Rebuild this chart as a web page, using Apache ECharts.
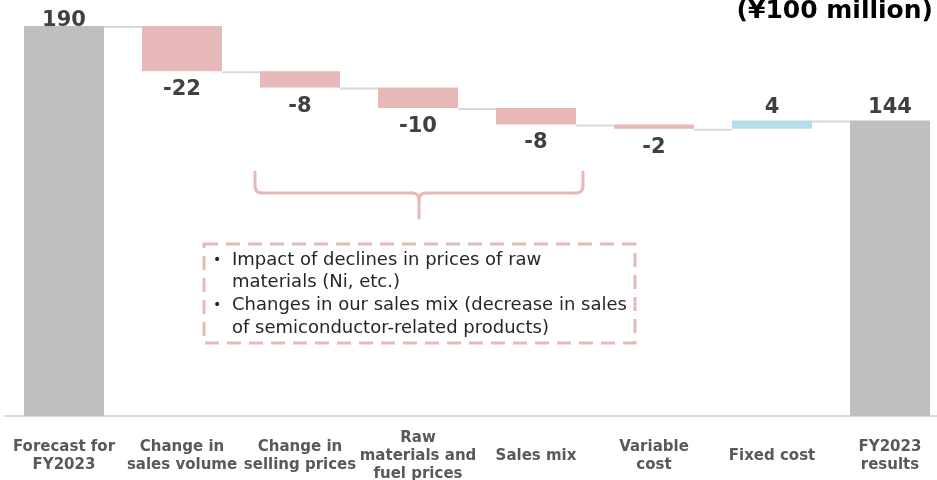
<!DOCTYPE html>
<html lang="en">
<head>
    <meta charset="UTF-8">
    <title>Operating income bridge</title>
    <script src="https://cdn.jsdelivr.net/npm/echarts@6/dist/echarts.min.js"></script>
    <style>
        body { margin: 0; background: #fff; }
    </style>
</head>
<body>
    <div id="main" style="width: 937px;height: 480px;"></div>
    <script>
        // categories of the bridge
        const categories = [
            'Forecast for\nFY2023',
            'Change in\nsales volume',
            'Change in\nselling prices',
            'Raw\nmaterials and\nfuel prices',
            'Sales mix',
            'Variable\ncost',
            'Fixed cost',
            'FY2023\nresults'
        ];
        // first and last are totals, the others are changes
        const changes = [190, -22, -8, -10, -8, -2, 4, 144];
        const noteLines = [
            'Impact of declines in prices of raw',
            'materials (Ni, etc.)',
            'Changes in our sales mix (decrease in sales',
            'of semiconductor-related products)'
        ];

        const GREY = '#bfbfbf', PINK = '#e6b8b7', BLUE = '#b7dee8';
        const last = changes.length - 1;

        // invisible base + visible part of each bar
        let base = [], height = [], levels = [];
        let running = 0;
        changes.forEach((v, i) => {
            if (i === 0 || i === last) {
                base.push(0);
                height.push(v);
                running = v;
            } else {
                let next = running + v;
                base.push(Math.min(running, next));
                height.push(Math.abs(v));
                running = next;
            }
            if (i < last) levels.push([i, running]);
        });

        const labelFont = { fontFamily: 'DejaVu Sans', fontWeight: 'bold', fontSize: 21, color: '#404040' };

        const valueData = height.map((h, i) => {
            let v = changes[i];
            let total = (i === 0 || i === last);
            return {
                value: h,
                itemStyle: { color: total ? GREY : (v < 0 ? PINK : BLUE) },
                label: {
                    show: true,
                    position: v < 0 ? 'bottom' : 'top',
                    distance: i === 0 ? -5 : (v < 0 ? 8 : 2),
                    ...labelFont
                }
            };
        });

        let myChart = echarts.init(document.getElementById('main'));

        // note text inside the dashed box
        let notes = [];
        noteLines.forEach((t, i) => {
            notes.push({
                type: 'text',
                style: {
                    x: 232, y: 260 + i * 22.8, text: t,
                    font: '18px "DejaVu Sans"', fill: '#262626',
                    textVerticalAlign: 'middle'
                }
            });
        });
        [0, 2].forEach(i => {
            notes.push({
                type: 'text',
                style: {
                    x: 213, y: 260 + i * 22.8, text: '•',
                    font: '14px "DejaVu Sans"', fill: '#262626',
                    textVerticalAlign: 'middle'
                }
            });
        });

        // curly brace above the note
        const braceStyle = { stroke: PINK, lineWidth: 3, fill: null, lineCap: 'round' };
        const braceLines = [
            [255, 172, 255, 186], [262, 193, 412, 193], [419, 200, 419, 218],
            [426, 193, 576, 193], [583, 186, 583, 172]
        ];
        const braceCurves = [
            [255, 186, 255, 193, 262, 193], [412, 193, 419, 193, 419, 200],
            [426, 193, 419, 193, 419, 200], [576, 193, 583, 193, 583, 186]
        ];
        let brace = [];
        braceLines.forEach(l => brace.push({
            type: 'line', shape: { x1: l[0], y1: l[1], x2: l[2], y2: l[3] }, style: braceStyle
        }));
        braceCurves.forEach(c => brace.push({
            type: 'bezierCurve',
            shape: { x1: c[0], y1: c[1], cpx1: c[2], cpy1: c[3], x2: c[4], y2: c[5] },
            style: braceStyle
        }));

        let option = {
            animation: false,
            grid: { left: 5, top: 26, width: 944, height: 390, outerBoundsMode: 'none' },
            xAxis: {
                type: 'category',
                data: categories,
                axisTick: { show: false },
                axisLine: { lineStyle: { color: '#d9d9d9', width: 2 } },
                axisLabel: {
                    interval: 0,
                    margin: 40,
                    verticalAlign: 'middle',
                    lineHeight: 18,
                    fontSize: 15,
                    fontWeight: 'bold',
                    fontFamily: 'DejaVu Sans',
                    color: '#595959'
                }
            },
            yAxis: { type: 'value', min: 0, max: 190, show: false },
            series: [
                {
                    type: 'bar',
                    stack: 'total',
                    barWidth: 80,
                    itemStyle: { color: 'transparent' },
                    data: base,
                    silent: true
                },
                {
                    type: 'bar',
                    stack: 'total',
                    barWidth: 80,
                    data: valueData,
                    label: { formatter: p => String(changes[p.dataIndex]) }
                },
                {
                    // connector lines between bars
                    type: 'custom',
                    data: levels,
                    encode: { x: 0, y: 1 },
                    z: 1,
                    renderItem: function (params, api) {
                        let i = api.value(0), lvl = api.value(1);
                        let a = api.coord([i, lvl]);
                        let b = api.coord([i + 1, lvl]);
                        return {
                            type: 'line',
                            shape: { x1: a[0] + 40, y1: a[1] + 1, x2: b[0] - 40, y2: b[1] + 1 },
                            style: { stroke: '#d9d9d9', lineWidth: 2 }
                        };
                    }
                }
            ],
            graphic: [
                {
                    type: 'text',
                    style: {
                        x: 933, y: 11, text: '(¥100 million)',
                        font: 'bold 25px "DejaVu Sans"', fill: '#000',
                        textAlign: 'right', textVerticalAlign: 'middle'
                    }
                },
                {
                    type: 'rect',
                    shape: { x: 204, y: 244, width: 431, height: 99 },
                    style: { stroke: PINK, lineWidth: 3, fill: null, lineDash: [14, 8] }
                },
                ...brace,
                ...notes
            ]
        };

        myChart.setOption(option);
    </script>
</body>
</html>
